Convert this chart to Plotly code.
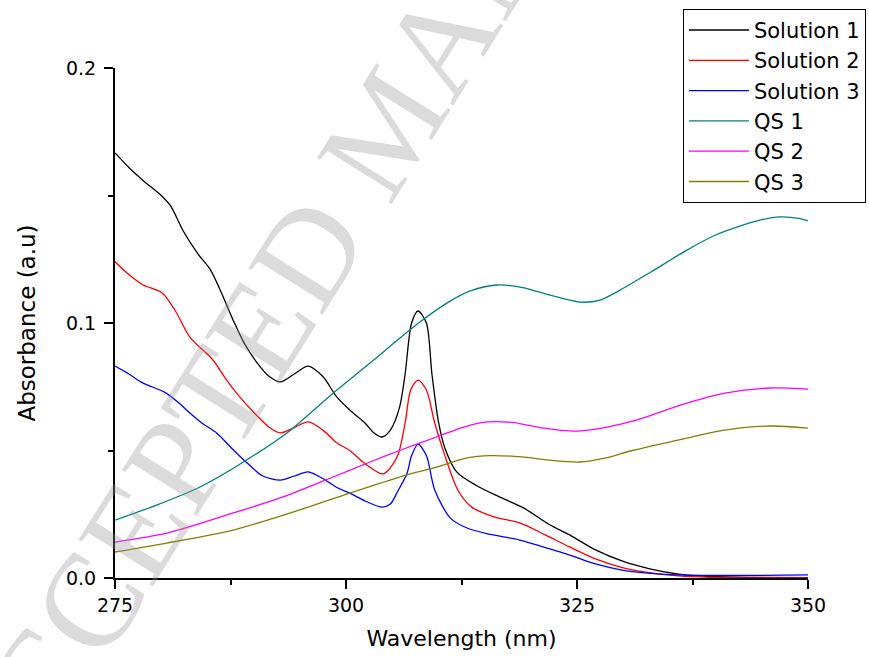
import plotly.graph_objects as go

# ---- data ----
sol1_x = [275, 276.5, 278, 280, 281, 282.4, 284, 285.3, 286.5, 287.8, 289, 290.4, 291.7, 292.9,
          294.4, 295.9, 297.5, 299, 300.4, 302, 303, 303.9, 304.8, 305.8, 306.4, 307.1, 307.8,
          308.7, 309.3, 310.0, 310.7, 312.0, 314.1, 316.5, 319.2, 322, 324.2, 327, 330, 333,
          336, 338, 341, 345, 350]
sol1_y = [0.1667, 0.161, 0.156, 0.150, 0.146, 0.136, 0.127, 0.121, 0.112, 0.101, 0.092, 0.0843,
          0.079, 0.0769, 0.080, 0.0831, 0.079, 0.071, 0.0659, 0.061, 0.057, 0.0553, 0.058,
          0.067, 0.080, 0.100, 0.1047, 0.100, 0.080, 0.0614, 0.051, 0.0415, 0.0363, 0.032,
          0.0275, 0.021, 0.0169, 0.011, 0.0065, 0.0035, 0.0015, 0.0008, 0.0004, 0.0002, 0.0001]

sol2_x = [275, 276.5, 278, 280.1, 281.5, 283.1, 285.6, 287, 288.5, 290, 291.8, 292.9, 294.4,
          295.9, 297.5, 299, 300.4, 302, 303.9, 304.5, 305.6, 306.4, 307.0, 307.8, 308.7, 309.6,
          310.7, 312.1, 313.6, 316, 318.8, 321.5, 324.2, 327, 330, 333, 336, 340, 345, 350]
sol2_y = [0.124, 0.119, 0.115, 0.1118, 0.105, 0.0945, 0.0855, 0.078, 0.071, 0.065, 0.0588,
          0.0569, 0.059, 0.0612, 0.058, 0.053, 0.050, 0.045, 0.0408, 0.042, 0.048, 0.0608,
          0.0737, 0.0776, 0.0737, 0.0608, 0.048, 0.0345, 0.0278, 0.024, 0.0216, 0.017, 0.0122,
          0.0075, 0.004, 0.002, 0.0008, 0.0002, 0.0, 0.0]

sol3_x = [275, 276.5, 278, 280.4, 281.8, 283.1, 284.5, 286.0, 287.6, 289.3, 291, 292.9, 294.4,
          295.9, 297.5, 299, 300.4, 302.2, 303.9, 304.8, 305.6, 306.6, 307.1, 307.8, 308.7,
          309.6, 311.3, 313.1, 315.5, 318.8, 321.5, 324.2, 327, 330, 333, 336, 340, 345, 350]
sol3_y = [0.0831, 0.080, 0.0765, 0.0728, 0.069, 0.0647, 0.0605, 0.0569, 0.051, 0.0451, 0.040,
          0.0384, 0.040, 0.0416, 0.039, 0.0355, 0.0333, 0.030, 0.0278, 0.029, 0.034, 0.041,
          0.048, 0.0525, 0.048, 0.0345, 0.0235, 0.0196, 0.0172, 0.0149, 0.012, 0.009, 0.0055,
          0.003, 0.0018, 0.0012, 0.0010, 0.0010, 0.0012]

qs1_x = [275, 279.5, 284.2, 288.9, 293.6, 298.6, 302.6, 305.8, 308.0, 311, 313.4, 316.3, 319,
         322, 325.3, 327.5, 329.7, 333, 336.9, 340, 342.3, 345, 347, 349, 350]
qs1_y = [0.0227, 0.0286, 0.0357, 0.0455, 0.0569, 0.0725, 0.0843, 0.094, 0.1004, 0.108, 0.1125,
         0.1149, 0.1140, 0.111, 0.1082, 0.109, 0.113, 0.120, 0.1286, 0.1345, 0.1376, 0.1405,
         0.1416, 0.141, 0.140]

qs2_x = [275, 280.6, 287.8, 293.2, 298.6, 302.6, 305.8, 309.8, 313, 315.3, 318, 321, 325.0,
         328, 331, 336.9, 341, 345.9, 350]
qs2_y = [0.0141, 0.0176, 0.0255, 0.0318, 0.0396, 0.0455, 0.050, 0.0553, 0.0595, 0.0612, 0.061,
         0.059, 0.0576, 0.059, 0.0615, 0.0686, 0.0725, 0.0745, 0.0741]

qs3_x = [275, 280.6, 287.8, 295.0, 300.4, 305.8, 309.8, 313, 315.6, 319, 322, 325.3, 328, 331,
         336.9, 341, 345.9, 350]
qs3_y = [0.0102, 0.0137, 0.0188, 0.0267, 0.0333, 0.0396, 0.0435, 0.047, 0.048, 0.0475, 0.0462,
         0.0455, 0.047, 0.050, 0.0549, 0.058, 0.0596, 0.0588]

series_names = ["Solution 1", "Solution 2", "Solution 3", "QS 1", "QS 2", "QS 3"]
x_ticks = [275, 300, 325, 350]
y_ticks = [0.0, 0.1, 0.2]
y_ticklabels = ["0.0", "0.1", "0.2"]

# ---- styles ----
colors = ["#000000", "#ff0000", "#0000ff", "#008080", "#ff00ff", "#808000"]
xs = [sol1_x, sol2_x, sol3_x, qs1_x, qs2_x, qs3_x]
ys = [sol1_y, sol2_y, sol3_y, qs1_y, qs2_y, qs3_y]

FONT = "DejaVu Sans, Arial, sans-serif"

fig = go.Figure()
for name, x, y, c in zip(series_names, xs, ys, colors):
    fig.add_trace(go.Scatter(x=x, y=y, name=name, mode="lines",
                             line=dict(color=c, width=1.3, shape="spline", smoothing=0.8)))

axis_common = dict(showline=True, linecolor="black", linewidth=2, ticks="outside",
                   tickcolor="black", tickwidth=2, ticklen=9, showgrid=False, zeroline=False,
                   mirror=False, automargin=False,
                   tickfont=dict(family=FONT, size=19, color="black"))

fig.update_xaxes(range=[275, 350], tickvals=x_ticks, ticktext=[str(v) for v in x_ticks],
                 title=dict(text="Wavelength (nm)", font=dict(family=FONT, size=22, color="black"),
                            standoff=16),
                 minor=dict(tickvals=[287.5, 312.5, 337.5], ticks="outside", ticklen=5,
                            tickwidth=2, tickcolor="black"),
                 **axis_common)
fig.update_yaxes(range=[0, 0.2], tickvals=y_ticks, ticktext=y_ticklabels,
                 ticklabelstandoff=4,
                 title=dict(text="Absorbance (a.u)", font=dict(family=FONT, size=23, color="black"),
                            standoff=24),
                 minor=dict(tickvals=[0.05, 0.15], ticks="outside", ticklen=5,
                            tickwidth=2, tickcolor="black"),
                 **axis_common)

fig.add_annotation(text="ACCEPTED MANUSCRIPT", xref="paper", yref="paper",
                   x=0.394, y=0.888, xanchor="center", yanchor="middle", showarrow=False,
                   textangle=-58,
                   font=dict(family="Liberation Serif, Times New Roman, serif", size=134,
                             color="rgba(150,150,150,0.34)"))

fig.update_layout(
    width=869, height=657,
    margin=dict(l=115, r=61, t=68, b=79, autoexpand=False),
    paper_bgcolor="white", plot_bgcolor="white",
    showlegend=True,
    legend=dict(x=0.8195, y=1.116, xanchor="left", yanchor="top",
                bordercolor="black", borderwidth=1, bgcolor="rgba(255,255,255,0)",
                font=dict(family=FONT, size=21, color="black"),
                tracegroupgap=0, itemwidth=60),
)

fig.write_html("out.html", config={"displayModeBar": False},
               post_script="document.body.style.margin='0px';")
